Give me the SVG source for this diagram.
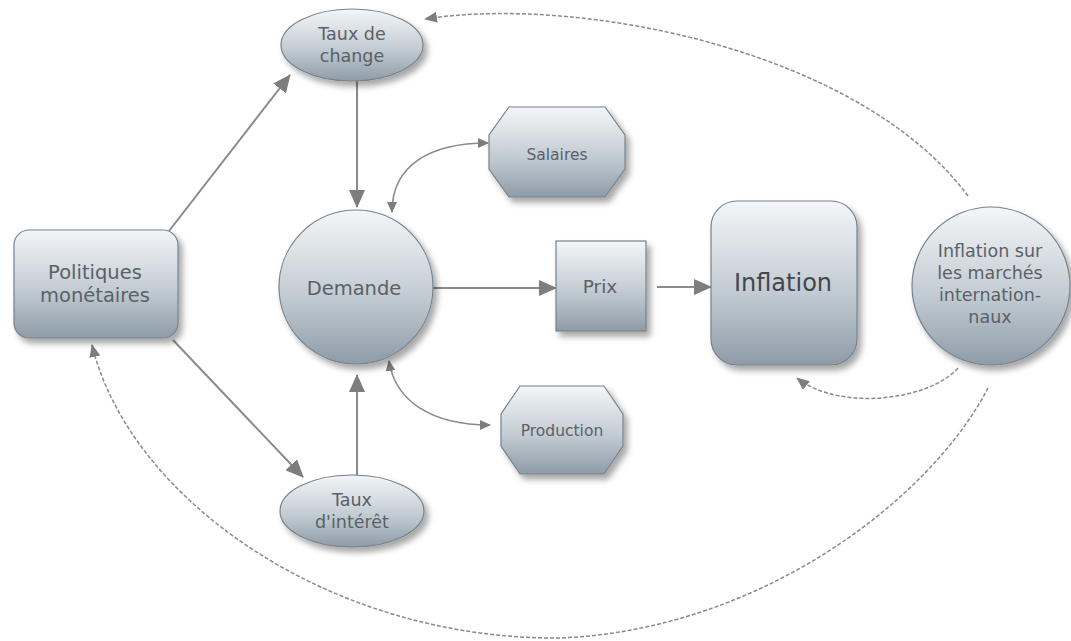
<svg xmlns="http://www.w3.org/2000/svg" width="1071" height="641" viewBox="0 0 1071 641">
<defs>
<linearGradient id="g" x1="0" y1="0" x2="0" y2="1">
<stop offset="0" stop-color="#f4f6f8"/>
<stop offset="0.55" stop-color="#c3ccd3"/>
<stop offset="1" stop-color="#8e9ca8"/>
</linearGradient>
<filter id="sh" x="-20%" y="-20%" width="150%" height="150%">
<feDropShadow dx="4" dy="5" stdDeviation="3" flood-color="#000" flood-opacity="0.35"/>
</filter>
<marker id="a" markerUnits="userSpaceOnUse" markerWidth="18" markerHeight="16" refX="17" refY="8" orient="auto" viewBox="0 0 18 16">
<path d="M0,0 L18,8 L0,16 z" fill="#7d7d7d"/>
</marker>
<marker id="s" markerUnits="userSpaceOnUse" markerWidth="11" markerHeight="10" refX="10" refY="5" orient="auto-start-reverse" viewBox="0 0 11 10">
<path d="M0,0 L11,5 L0,10 z" fill="#7d7d7d"/>
</marker>
<marker id="d" markerUnits="userSpaceOnUse" markerWidth="13" markerHeight="11" refX="12" refY="5.5" orient="auto" viewBox="0 0 13 11">
<path d="M0,0 L13,5.5 L0,11 z" fill="#7d7d7d"/>
</marker>
</defs>
<style>
.n{fill:url(#g);stroke:#76828c;stroke-width:1.2;filter:url(#sh)}
.t{font-family:"DejaVu Sans",Verdana,sans-serif;fill:#5b6167;text-anchor:middle}
.c{fill:none;stroke:#8a8a8a;stroke-width:2}
.cs{fill:none;stroke:#8a8a8a;stroke-width:1.6}
.dash{fill:none;stroke:#8a8a8a;stroke-width:1.5;stroke-dasharray:4 2}
</style>
<rect width="1071" height="641" fill="#ffffff"/>
<g id="connectors">
<path class="c" d="M169,231 L290,75" marker-end="url(#a)"/>
<path class="c" d="M173,340 L303,477" marker-end="url(#a)"/>
<path class="c" d="M357,80 L357,207" marker-end="url(#a)"/>
<path class="c" d="M357,475 L357,375" marker-end="url(#a)"/>
<path class="c" d="M433,288 L556,288" marker-end="url(#a)"/>
<path class="c" d="M657,287 L711,287" marker-end="url(#a)"/>
<path class="cs" d="M392,212 C392,165 430,143 488,143" marker-start="url(#s)" marker-end="url(#s)"/>
<path class="cs" d="M389,361 C395,400 430,425 490,425" marker-start="url(#s)" marker-end="url(#s)"/>
<path class="dash" d="M968,196 C860,50 580,-5 425,19" marker-end="url(#d)"/>
<path class="dash" d="M988,388 C930,500 760,630 560,638 C330,640 130,500 92,345" marker-end="url(#d)"/>
<path class="dash" d="M958,368 C930,400 840,412 797,378" marker-end="url(#d)"/>
</g>
<g id="taux-change">
<ellipse class="n" cx="352" cy="45" rx="71" ry="36"/>
<text class="t" x="352" y="40" font-size="17.5">Taux de</text>
<text class="t" x="352" y="62" font-size="17.5">change</text>
</g>
<g id="politiques">
<rect class="n" x="14" y="230" width="164" height="108" rx="15"/>
<text class="t" x="95" y="279" font-size="19.5">Politiques</text>
<text class="t" x="95" y="302" font-size="19.5">monétaires</text>
</g>
<g id="demande">
<circle class="n" cx="356" cy="287" r="77"/>
<text class="t" x="354" y="295" font-size="19.5">Demande</text>
</g>
<g id="salaires">
<polygon class="n" points="509,107 605,107 625,135 625,169 605,197 509,197 489,169 489,135"/>
<text class="t" x="557" y="160" font-size="15.5">Salaires</text>
</g>
<g id="production">
<polygon class="n" points="520,386 604,386 623,414 623,446 604,474 520,474 501,446 501,414"/>
<text class="t" x="562" y="436" font-size="15.5">Production</text>
</g>
<g id="taux-interet">
<ellipse class="n" cx="352" cy="511" rx="72" ry="36"/>
<text class="t" x="352" y="506" font-size="17.5">Taux</text>
<text class="t" x="352" y="528" font-size="17.5">d'intérêt</text>
</g>
<g id="prix">
<rect class="n" x="556" y="241" width="90" height="90"/>
<text class="t" x="600" y="293" font-size="18.5">Prix</text>
</g>
<g id="inflation">
<rect class="n" x="711" y="201" width="146" height="164" rx="26"/>
<text class="t" x="783" y="291" font-size="24" style="fill:#42474c">Inflation</text>
</g>
<g id="inflation-internationale">
<circle class="n" cx="991" cy="286" r="79"/>
<text class="t" x="990" y="257" font-size="17.5">Inflation sur</text>
<text class="t" x="990" y="279" font-size="17.5">les marchés</text>
<text class="t" x="990" y="301" font-size="17.5">internation-</text>
<text class="t" x="990" y="323" font-size="17.5">naux</text>
</g>
</svg>
